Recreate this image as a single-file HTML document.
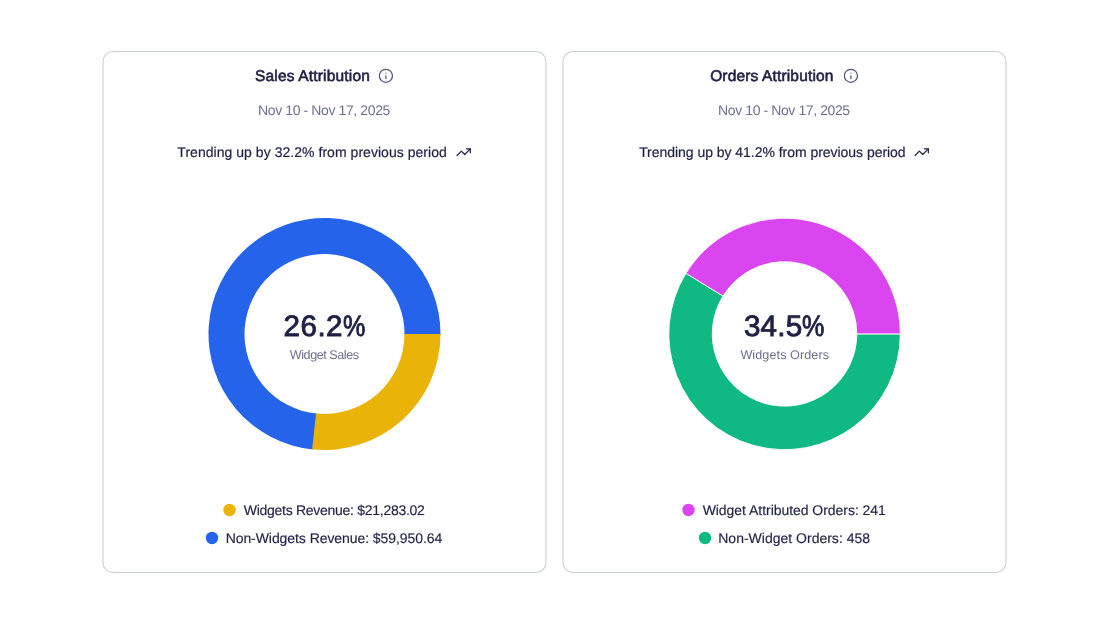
<!DOCTYPE html>
<html lang="en">
<head>
<meta charset="utf-8">
<title>Attribution</title>
<style>
  html, body { margin: 0; padding: 0; background: #ffffff; }
  body { width: 1109px; height: 624px; position: relative; overflow: hidden;
         font-family: "Liberation Sans", sans-serif; color: #1f2044; }
  svg.bg { position: absolute; left: 0; top: 0; }
  .t { position: absolute; white-space: nowrap; line-height: 1; text-rendering: geometricPrecision; }
  .title { color: #1f2044; -webkit-text-stroke: 0.6px #1f2044; }
  .date { color: #6d6f8e; }
  .trend { color: #1f2044; -webkit-text-stroke: 0.2px #1f2044; }
  .big { text-rendering: geometricPrecision; color: #1f2044; -webkit-text-stroke: 0.9px #1f2044; }
  .pc { display: inline-block; transform: scaleX(0.85); transform-origin: 0 50%; margin-right: -0.133em; }
  .sub { color: #6d6f8e; }
  .leg { color: #1f2044; -webkit-text-stroke: 0.15px #1f2044; }
</style>
</head>
<body>
<svg class="bg" width="1109" height="624" viewBox="0 0 1109 624">
  <!-- cards -->
  <rect x="103" y="51.5" width="443" height="521" rx="10" ry="10" fill="#ffffff" stroke="#c9ccdb" stroke-width="1.05"/>
  <rect x="563" y="51.5" width="443" height="521" rx="10" ry="10" fill="#ffffff" stroke="#c9ccdb" stroke-width="1.05"/>

  <!-- info icons -->
  <g fill="none" stroke="#53567a" stroke-width="1.25" stroke-linecap="round" stroke-linejoin="round">
    <circle cx="385.9" cy="75.8" r="6.55"/>
    <path d="M385.9 78.5V75.8M385.9 73.1h0.01"/>
    <circle cx="850.9" cy="75.8" r="6.55"/>
    <path d="M850.9 78.5V75.8M850.9 73.1h0.01"/>
  </g>

  <!-- trending-up icons -->
  <g fill="none" stroke="#1f2044" stroke-width="1.35" stroke-linecap="round" stroke-linejoin="round">
    <g transform="translate(455.7 144.2) scale(0.6667)">
      <path d="M22 7L13.5 15.5L8.5 10.5L2 17" stroke-width="1.8"/>
      <path d="M16 7H22V13" stroke-width="1.8"/>
    </g>
    <g transform="translate(913.7 144.2) scale(0.6667)">
      <path d="M22 7L13.5 15.5L8.5 10.5L2 17" stroke-width="1.8"/>
      <path d="M16 7H22V13" stroke-width="1.8"/>
    </g>
  </g>

  <!-- donut 1 -->
  <g transform="translate(324.5 334)">
    <path d="M-11.320,115.446A116,116,0,1,1,115.996,1.012L79.997,0.698A80,80,0,1,0,-7.807,79.618Z" fill="#2563eb"/>
    <path d="M116.000,0.000A116,116,0,0,1,-12.327,115.343L-8.501,79.547A80,80,0,0,0,80.000,0.000Z" fill="#eab308"/>
  </g>
  <!-- donut 2 -->
  <g transform="translate(784.55 333.9)" stroke="#ffffff" stroke-width="0.9" stroke-linejoin="miter">
    <path d="M-98.587,-60.651A115.75,115.75,0,1,0,115.750,0.000L72.250,0.000A72.25,72.25,0,1,1,-61.537,-37.858Z" fill="#10b981"/>
    <path d="M115.750,-0.000A115.75,115.75,0,0,0,-98.587,-60.651L-61.537,-37.858A72.25,72.25,0,0,1,72.250,-0.000Z" fill="#d946ef"/>
  </g>

  <!-- legend dots -->
  <circle cx="229.5" cy="510" r="6.2" fill="#eab308"/>
  <circle cx="212.0" cy="538" r="6.2" fill="#2563eb"/>
  <circle cx="688.5" cy="510" r="6.2" fill="#d946ef"/>
  <circle cx="705.0" cy="538" r="6.2" fill="#10b981"/>
</svg>

<div class="t title" style="left:255.00px;top:69.28px;font-size:15.5px;letter-spacing:0.177px">Sales Attribution</div>
<div class="t date" style="left:258.10px;top:103.25px;font-size:14px;letter-spacing:-0.393px">Nov 10 - Nov 17, 2025</div>
<div class="t trend" style="left:177.34px;top:145.05px;font-size:14px;letter-spacing:0.038px">Trending up by 32.2% from previous period</div>
<div class="t big" style="left:283.55px;top:312.44px;font-size:29.6px;letter-spacing:0.476px">26.2<span class="pc">%</span></div>
<div class="t sub" style="left:289.85px;top:348.93px;font-size:12.6px;letter-spacing:-0.454px">Widget Sales</div>
<div class="t leg" style="left:243.75px;top:502.85px;font-size:14px;letter-spacing:-0.277px">Widgets Revenue: $21,283.02</div>
<div class="t leg" style="left:225.63px;top:530.95px;font-size:14px;letter-spacing:-0.067px">Non-Widgets Revenue: $59,950.64</div>
<div class="t title" style="left:710.15px;top:69.28px;font-size:15.5px;letter-spacing:0.154px">Orders Attribution</div>
<div class="t date" style="left:718.08px;top:103.25px;font-size:14px;letter-spacing:-0.405px">Nov 10 - Nov 17, 2025</div>
<div class="t trend" style="left:639.13px;top:145.05px;font-size:14px;letter-spacing:-0.036px">Trending up by 41.2% from previous period</div>
<div class="t big" style="left:743.88px;top:312.44px;font-size:29.6px;letter-spacing:0.225px">34.5<span class="pc">%</span></div>
<div class="t sub" style="left:740.40px;top:348.93px;font-size:12.6px;letter-spacing:0.090px">Widgets Orders</div>
<div class="t leg" style="left:702.63px;top:502.85px;font-size:14px;letter-spacing:-0.042px">Widget Attributed Orders: 241</div>
<div class="t leg" style="left:718.26px;top:530.95px;font-size:14px;letter-spacing:0.002px">Non-Widget Orders: 458</div>
</body>
</html>
